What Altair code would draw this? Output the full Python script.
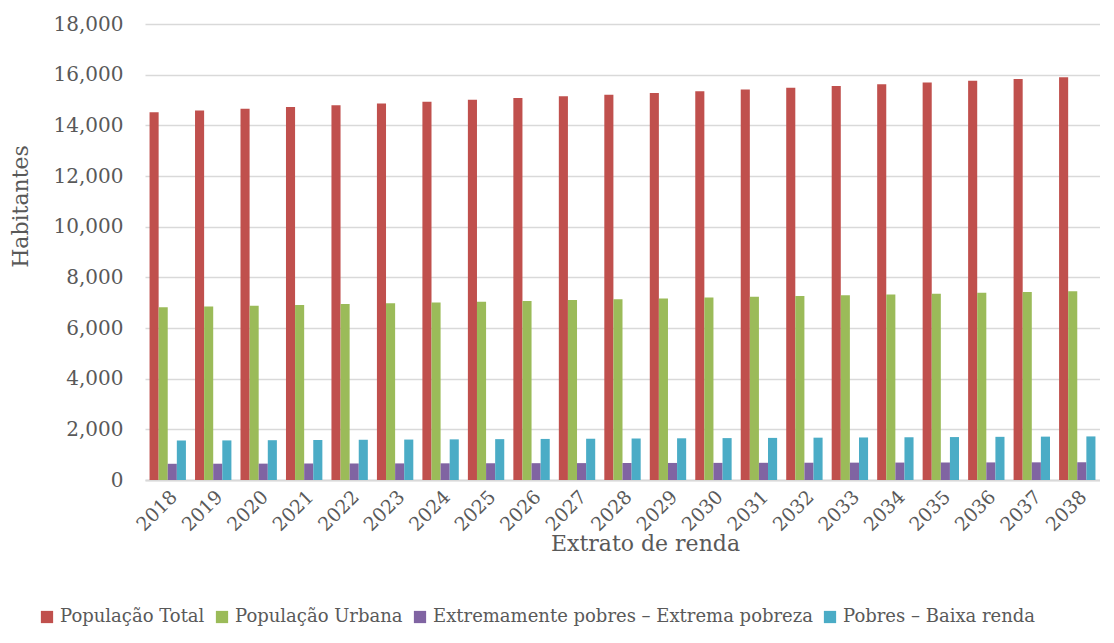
import altair as alt
import pandas as pd

years = [str(y) for y in range(2018, 2039)]
series = ["População Total", "População Urbana",
          "Extremamente pobres – Extrema pobreza", "Pobres – Baixa renda"]
colors = ["#C0504D", "#9BBB59", "#8064A2", "#4BACC6"]

pop_total = [14515, 14585, 14655, 14725, 14795, 14865, 14935, 15005, 15075, 15145,
             15210, 15280, 15350, 15415, 15485, 15555, 15620, 15690, 15760, 15825, 15895]
pop_urbana = [6815, 6850, 6880, 6910, 6945, 6975, 7010, 7040, 7070, 7105,
              7135, 7165, 7200, 7230, 7260, 7295, 7325, 7355, 7390, 7420, 7455]
extrema = [640, 643, 646, 649, 652, 655, 658, 661, 664, 667,
           670, 673, 676, 679, 682, 685, 688, 691, 694, 697, 700]
baixa = [1555, 1563, 1571, 1580, 1588, 1596, 1604, 1613, 1621, 1629,
         1638, 1646, 1654, 1662, 1671, 1679, 1687, 1695, 1704, 1712, 1720]

rows = []
for vals, name in zip([pop_total, pop_urbana, extrema, baixa], series):
    for y, v in zip(years, vals):
        rows.append({"Ano": y, "Serie": name, "Valor": v})
df = pd.DataFrame(rows)

FONT = "DejaVu Serif"
GRAY = "#595959"

chart = alt.Chart(df).mark_bar().encode(
    x=alt.X("Ano:N", sort=years,
            scale=alt.Scale(paddingInner=0.2, paddingOuter=0.1),
            axis=alt.Axis(title="Extrato de renda", labelAngle=-45,
                          labelFontSize=19, labelFont=FONT, labelColor=GRAY,
                          titleFont=FONT, titleFontSize=22, titleFontWeight="normal",
                          titleColor=GRAY, titleX=500, titleY=63, titleBaseline="middle",
                          ticks=False, domainColor="#d9d9d9", domainWidth=2,
                          labelPadding=7)),
    xOffset=alt.XOffset("Serie:N", sort=series,
                        scale=alt.Scale(paddingInner=0, paddingOuter=0)),
    y=alt.Y("Valor:Q",
            scale=alt.Scale(domain=[0, 18000], nice=False),
            axis=alt.Axis(title="Habitantes", values=list(range(0, 18001, 2000)),
                          format=",d", labelFontSize=20, labelFont=FONT,
                          labelColor=GRAY, labelPadding=22, ticks=False, domain=False,
                          gridColor="#d9d9d9", gridWidth=1.5,
                          titleFont=FONT, titleFontSize=22, titleFontWeight="normal",
                          titleColor=GRAY, titleX=-125, titleY=182,
                          titleAngle=-90, titleAlign="center",
                          titleBaseline="middle")),
    color=alt.Color("Serie:N", sort=series,
                    scale=alt.Scale(domain=series, range=colors),
                    legend=alt.Legend(title=None, orient="none", direction="horizontal",
                                      legendX=-107, legendY=584,
                                      symbolType="square", symbolSize=150,
                                      symbolStrokeWidth=0, symbolOpacity=1,
                                      labelFont=FONT, labelFontSize=18,
                                      labelColor=GRAY, columnPadding=8,
                                      labelLimit=500)),
).properties(
    width=955,
    height=456,
    autosize=alt.AutoSizeParams(type="none"),
    padding={"left": 137, "top": 16, "right": 0, "bottom": 158},
).configure_view(stroke=None)

chart.save("out.html", embed_options={"renderer": "svg", "actions": False})
